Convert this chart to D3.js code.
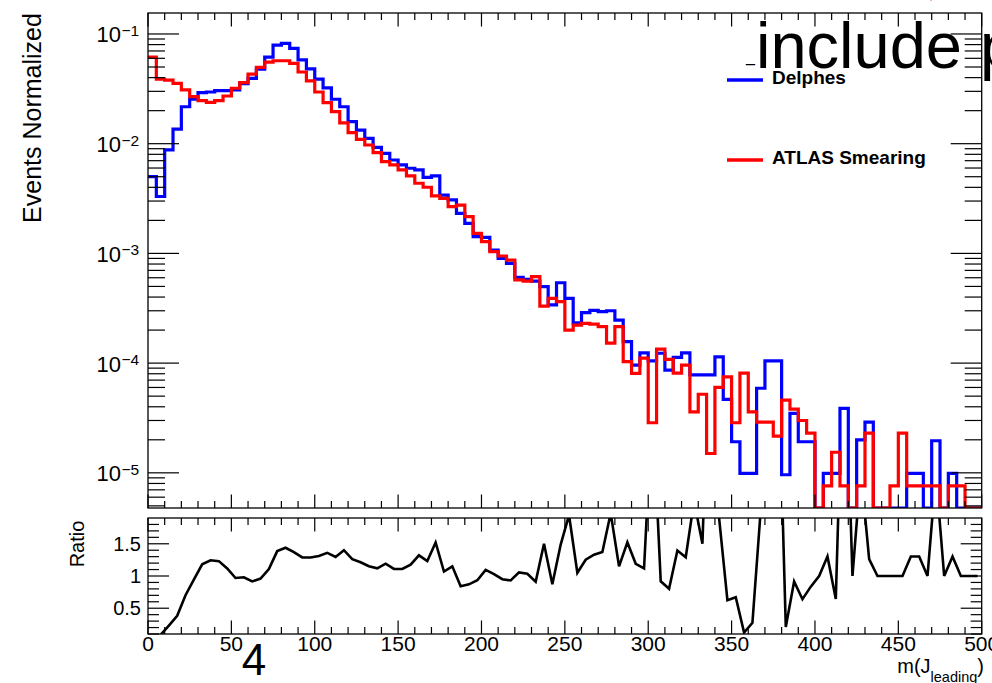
<!DOCTYPE html>
<html>
<head>
<meta charset="utf-8">
<script src="https://cdn.jsdelivr.net/npm/d3@7"></script>
<style>
  html, body { margin: 0; padding: 0; background: #fff; }
  svg { display: block; font-family: "Liberation Sans", Arial, Helvetica, sans-serif; }
</style>
</head>
<body>
<svg id="chart" width="992" height="683"></svg>
<script>
// Leading-jet mass, 100 bins of 5 GeV between 0 and 500, normalised to unit area
const binLow = 0, binHigh = 500, binWidth = 5;

const delphes = [
  0.0050, 0.0033, 0.0088, 0.0136, 0.0217, 0.0254, 0.0292, 0.0296, 0.0304, 0.0304,
  0.0310, 0.0353, 0.0394, 0.0477, 0.0614, 0.0790, 0.0820, 0.0740, 0.0580, 0.0480,
  0.0388, 0.0322, 0.0254, 0.0217, 0.0159, 0.0133, 0.0112, 0.00927, 0.00817, 0.0071,
  0.0064, 0.00597, 0.00576, 0.00494, 0.00508, 0.0034, 0.00307, 0.00232, 0.00188, 0.00142,
  0.0014, 0.00107, 0.0009, 0.00081, 0.000605, 0.00058, 0.00056, 0.000497, 0.000339, 0.00054,
  0.000389, 0.000233, 0.000288, 0.000302, 0.000295, 0.000300, 0.000247, 0.000157, 0.000096, 0.000124,
  0.000105, 0.000123, 0.0000865, 0.000113, 0.000124, 0.000078, 0.000078, 0.000078, 0.000114, 0.0000468,
  0.0000192, 0.0000099, 0.0000099, 0.000059, 0.000105, 0.000105, 0.0000096, 0.0000348, 0.0000192, 0.0000192,
  0, 0.0000099, 0.0000099, 0.0000387, 0, 0.000020, 0.0000290, 0, 0, 0,
  0, 0.0000099, 0.0000099, 0, 0.0000196, 0, 0.0000099, 0, 0, 0
];

const atlasSmearing = [
  0.0614, 0.0387, 0.0380, 0.0355, 0.0309, 0.0269, 0.0247, 0.0238, 0.0247, 0.0272,
  0.0320, 0.0360, 0.0430, 0.0497, 0.0554, 0.0570, 0.0570, 0.0540, 0.0450, 0.0373,
  0.0296, 0.0237, 0.0196, 0.0155, 0.0126, 0.01096, 0.00973, 0.00828, 0.00686, 0.0064,
  0.00576, 0.00508, 0.00436, 0.00401, 0.00334, 0.00318, 0.00267, 0.00276, 0.00216, 0.00152,
  0.00128, 0.00104, 0.000947, 0.00087, 0.000573, 0.00056, 0.000614, 0.000331, 0.000389, 0.000363,
  0.0002, 0.000222, 0.00023, 0.000227, 0.000215, 0.000152, 0.000215, 0.000103, 0.0000807, 0.000111,
  0.0000286, 0.000134, 0.000108, 0.000081, 0.000096, 0.000036, 0.000052, 0.000015, 0.00006, 0.000075,
  0.0000286, 0.000081, 0.000036, 0.000029, 0.000029, 0.0000216, 0.000046, 0.000038, 0.000030, 0.000023,
  0, 0.0000076, 0.0000154, 0.0000076, 0, 0.0000076, 0.000023, 0, 0, 0.0000076,
  0.000023, 0.0000076, 0.0000076, 0.0000076, 0.0000076, 0, 0.0000076, 0.0000076, 0, 0
];

const seriesNames = ["Delphes", "ATLAS Smearing"];
const seriesColors = ["#0000ff", "#ff0000"];
const xTickLabels = ["0", "50", "100", "150", "200", "250", "300", "350", "400", "450", "500"];
const yDecadeExponents = [-1, -2, -3, -4, -5];
const ratioTickLabels = ["0.5", "1", "1.5"];

// ---------- layout ----------
const svg = d3.select("#chart");
const X0 = 148, X1 = 981.7;
const TOP_Y0 = 13, TOP_Y1 = 508;
const RAT_Y0 = 518, RAT_Y1 = 634;

const x = d3.scaleLinear().domain([binLow, binHigh]).range([X0, X1]);
const yMin = 4.78e-6, yMax = 0.1553;
const y = d3.scaleLog().domain([yMin, yMax]).range([TOP_Y1, TOP_Y0]).clamp(true);
const yr = d3.scaleLinear().domain([0.1, 1.9]).range([RAT_Y1, RAT_Y0]);

const defs = svg.append("defs");
defs.append("clipPath").attr("id", "clipTop").append("rect")
  .attr("x", X0).attr("y", TOP_Y0).attr("width", X1 - X0).attr("height", TOP_Y1 - TOP_Y0);
defs.append("clipPath").attr("id", "clipRatio").append("rect")
  .attr("x", X0).attr("y", RAT_Y0).attr("width", X1 - X0).attr("height", RAT_Y1 - RAT_Y0);

// ---------- histogram outlines ----------
function stepPoints(values) {
  const pts = [];
  values.forEach((v, i) => {
    const lo = binLow + i * binWidth, hi = lo + binWidth;
    const val = v > 0 ? v : yMin;
    pts.push([x(lo), y(val)], [x(hi), y(val)]);
  });
  return pts;
}
const line = d3.line();
const gHist = svg.append("g").attr("clip-path", "url(#clipTop)");
[delphes, atlasSmearing].forEach((vals, k) => {
  gHist.append("path")
    .attr("d", line(stepPoints(vals)))
    .attr("fill", "none")
    .attr("stroke", seriesColors[k])
    .attr("stroke-width", 3.2)
    .attr("stroke-linejoin", "miter");
});

// ---------- top frame and ticks ----------
function frame(y0, y1) {
  svg.append("rect").attr("x", X0).attr("y", y0).attr("width", X1 - X0).attr("height", y1 - y0)
    .attr("fill", "none").attr("stroke", "#000").attr("stroke-width", 1.3);
}
frame(TOP_Y0, TOP_Y1);

const gTicks = svg.append("g").attr("stroke", "#000").attr("stroke-width", 1.2);
// log-axis ticks on both sides
for (let e = -6; e <= -1; e++) {
  for (let m = 1; m <= 9; m++) {
    const v = m * Math.pow(10, e);
    if (v < yMin || v > yMax) continue;
    const len = m === 1 ? 31 : 17;
    const yy = y(v);
    gTicks.append("line").attr("x1", X0).attr("x2", X0 + len).attr("y1", yy).attr("y2", yy);
    gTicks.append("line").attr("x1", X1).attr("x2", X1 - len).attr("y1", yy).attr("y2", yy);
  }
}
// x ticks every 10, labelled every 50
function xTicks(y0, y1) {
  for (let v = binLow; v <= binHigh; v += 10) {
    const major = v % 50 === 0;
    const len = major ? 13.5 : 7;
    const xx = x(v);
    gTicks.append("line").attr("x1", xx).attr("x2", xx).attr("y1", y1).attr("y2", y1 - len);
    gTicks.append("line").attr("x1", xx).attr("x2", xx).attr("y1", y0).attr("y2", y0 + len);
  }
}
xTicks(TOP_Y0, TOP_Y1);

// decade labels 10^n
yDecadeExponents.forEach(e => {
  const yy = y(Math.pow(10, e));
  svg.append("text").attr("x", 121).attr("y", yy + 8.5)
    .attr("text-anchor", "end").attr("font-size", 22).attr("fill", "#000").text("10");
  svg.append("text").attr("x", 121.5).attr("y", yy + 2)
    .attr("text-anchor", "start").attr("font-size", 15.5).attr("fill", "#000").text("\u2212" + (-e));
});

svg.append("text")
  .attr("transform", "translate(41,118) rotate(-90)")
  .attr("text-anchor", "middle").attr("font-size", 25).attr("fill", "#000")
  .text("Events Normalized");

// ---------- legend ----------
const legendY = [80, 160];
seriesNames.forEach((name, k) => {
  svg.append("line").attr("x1", 727).attr("x2", 763).attr("y1", legendY[k]).attr("y2", legendY[k])
    .attr("stroke", seriesColors[k]).attr("stroke-width", 3.5);
  svg.append("text").attr("x", 772).attr("y", legendY[k] + 4)
    .attr("font-size", 19).attr("font-weight", "bold").attr("fill", "#000").text(name);
});

// overlaid caption text running off the right edge
svg.append("text").attr("x", 756).attr("y", 68)
  .attr("font-size", 65).attr("fill", "#000").text("include p");
svg.append("text").attr("x", 746).attr("y", 62)
  .attr("font-size", 16).attr("fill", "#000").text("_");
svg.append("text").attr("x", 929).attr("y", -1)
  .attr("font-size", 14).attr("fill", "#777").text(",");

// ---------- ratio panel ----------
const ratio = delphes.map((d, i) => (d > 0 && atlasSmearing[i] > 0) ? d / atlasSmearing[i] : 1);
const ratioLine = d3.line()
  .x((d, i) => x(binLow + (i + 0.5) * binWidth))
  .y(d => yr(d));
svg.append("g").attr("clip-path", "url(#clipRatio)")
  .append("path")
  .attr("d", ratioLine(ratio))
  .attr("fill", "none").attr("stroke", "#000").attr("stroke-width", 2.6)
  .attr("stroke-linejoin", "miter");

frame(RAT_Y0, RAT_Y1);
for (let k = 1; k <= 18; k++) {
  const v = k / 10;
  const yy = yr(v);
  const len = (k % 5 === 0) ? 21 : 11;
  gTicks.append("line").attr("x1", X0).attr("x2", X0 + len).attr("y1", yy).attr("y2", yy);
  gTicks.append("line").attr("x1", X1).attr("x2", X1 - len).attr("y1", yy).attr("y2", yy);
}
xTicks(RAT_Y0, RAT_Y1);

ratioTickLabels.forEach(t => {
  svg.append("text").attr("x", 141).attr("y", yr(+t) + 7)
    .attr("text-anchor", "end").attr("font-size", 20).attr("fill", "#000").text(t);
});
svg.append("text")
  .attr("transform", "translate(84,544) rotate(-90)")
  .attr("text-anchor", "middle").attr("font-size", 20).attr("fill", "#000")
  .text("Ratio");

xTickLabels.forEach(t => {
  svg.append("text").attr("x", x(+t)).attr("y", 651)
    .attr("text-anchor", "middle").attr("font-size", 21).attr("fill", "#000").text(t);
});

// x-axis title m(J_leading)
const xt = svg.append("text").attr("x", 984).attr("y", 673)
  .attr("text-anchor", "end").attr("font-size", 20).attr("fill", "#000");
xt.append("tspan").text("m(J");
xt.append("tspan").attr("font-size", 14.5).attr("dy", 9).text("leading");
xt.append("tspan").attr("dy", -9).text(")");

// stray page number
svg.append("text").attr("x", 254).attr("y", 675)
  .attr("text-anchor", "middle").attr("font-size", 44).attr("fill", "#000").text("4");
</script>
</body>
</html>
